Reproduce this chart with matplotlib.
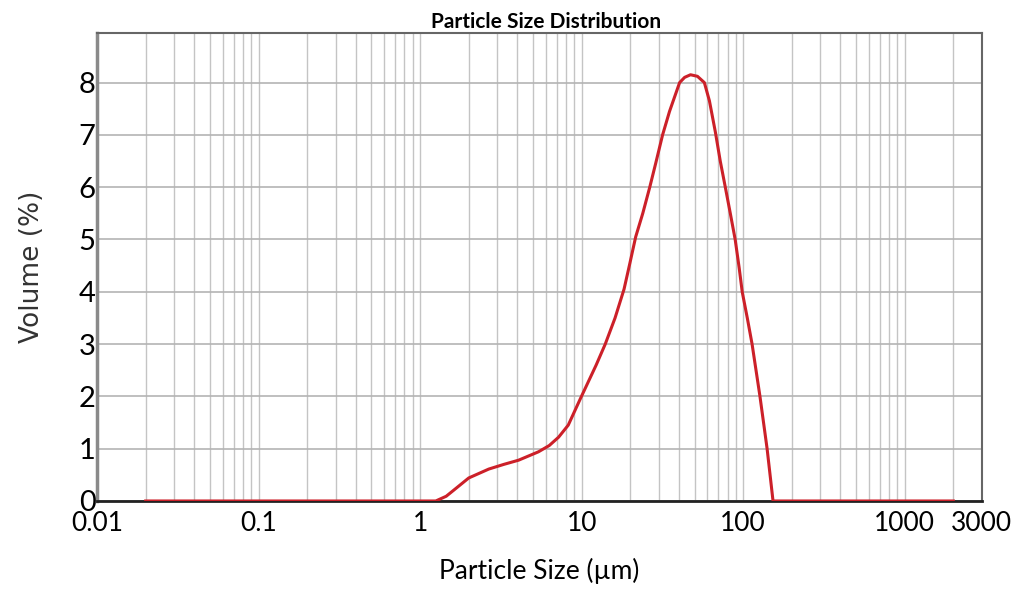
import numpy as np
import matplotlib.pyplot as plt
from matplotlib.ticker import FixedLocator, LogLocator, NullFormatter

# particle size (um) and volume (%)
size_um = [0.02, 0.1, 0.5, 1.0, 1.25, 1.45, 1.62, 2.0, 2.66, 3.3, 4.07, 5.4,
           6.3, 7.2, 8.26, 9.8, 12.3, 14.0, 16.1, 18.3, 19.9, 21.6, 23.9,
           26.4, 28.7, 31.7, 35.0, 40.4, 43.4, 47.2, 52.1, 57.5, 61.8, 67.3,
           72.1, 77.5, 83.2, 89.2, 94.5, 98.6, 106.0, 113.5, 127.0, 135.0,
           140.6, 153.0, 300.0, 1000.0, 2000.0]
volume_pct = [0.0, 0.0, 0.0, 0.0, 0.0, 0.09, 0.21, 0.44, 0.61, 0.70, 0.78, 0.94,
              1.06, 1.22, 1.45, 1.95, 2.6, 3.0, 3.5, 4.05, 4.55, 5.05, 5.5,
              6.0, 6.45, 7.0, 7.45, 8.0, 8.1, 8.15, 8.12, 8.0, 7.65, 7.05,
              6.5, 6.0, 5.5, 5.0, 4.45, 4.0, 3.5, 3.0, 2.0, 1.4,
              1.0, 0.0, 0.0, 0.0, 0.0]

x_ticks = [0.01, 0.1, 1, 10, 100, 1000, 3000]
x_tick_labels = ["0.01", "0.1", "1", "10", "100", "1000", "3000"]
y_ticks = [0, 1, 2, 3, 4, 5, 6, 7, 8]

narrow = ["Lato", "DejaVu Sans"]

fig = plt.figure(figsize=(10.17, 5.94), dpi=100)
ax = fig.add_axes([0.0954, 0.1566, 0.870, 0.788])

ax.plot(size_um, volume_pct, color="#cc2029", lw=2.2, zorder=3)

ax.set_xscale("log")
ax.set_xlim(0.01, 3000)
ax.set_ylim(0, 8.95)

ax.xaxis.set_major_locator(FixedLocator(x_ticks))
ax.set_xticklabels(x_tick_labels, family=narrow, fontsize=19)
ax.xaxis.set_minor_locator(LogLocator(base=10, subs=np.arange(2, 10), numticks=20))
ax.xaxis.set_minor_formatter(NullFormatter())
ax.set_yticks(y_ticks)
ax.set_yticklabels([str(v) for v in y_ticks], family=narrow, fontsize=21)

ax.grid(True, which="both", axis="x", color="#c4c4c4", lw=1.0)
ax.grid(True, which="major", axis="y", color="#b4b4b4", lw=1.2)
ax.tick_params(axis="both", which="both", length=0, pad=1)
ax.tick_params(axis="x", pad=7)

for side in ["top", "right", "left"]:
    ax.spines[side].set_color("#666666")
    ax.spines[side].set_linewidth(1.5)
ax.spines["left"].set_color("#8a8a8a")
ax.spines["left"].set_linewidth(2.5)
ax.spines["bottom"].set_color("#222222")
ax.spines["bottom"].set_linewidth(2.0)

ax.set_xlabel("Particle Size (\u00b5m)", family=narrow, fontsize=19, labelpad=16)
ax.set_ylabel("Volume (%)", fontsize=19, color="#333333", labelpad=24)
fig.text(0.537, 0.963, "Particle Size Distribution", family=narrow,
         fontweight="bold", fontsize=15, ha="center", va="center")

fig.savefig("out.png", dpi=100)
